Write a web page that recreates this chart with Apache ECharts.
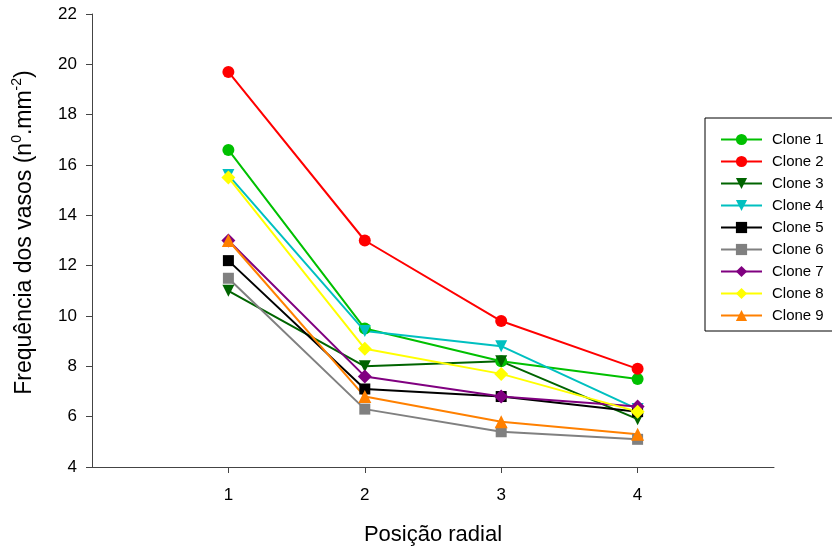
<!DOCTYPE html>
<html><head><meta charset="utf-8">
<script src="https://cdn.jsdelivr.net/npm/echarts@6/dist/echarts.min.js"></script>
<style>html,body{margin:0;padding:0;background:#fff}#c{width:832px;height:549px}</style>
</head><body><div id="c"></div>
<script>
const positions = [1, 2, 3, 4];
const seriesNames = ['Clone 1','Clone 2','Clone 3','Clone 4','Clone 5','Clone 6','Clone 7','Clone 8','Clone 9'];
const clone1 = [16.6, 9.5, 8.2, 7.5];
const clone2 = [19.7, 13.0, 9.8, 7.9];
const clone3 = [11.0, 8.0, 8.2, 5.9];
const clone4 = [15.6, 9.4, 8.8, 6.3];
const clone5 = [12.2, 7.1, 6.8, 6.2];
const clone6 = [11.5, 6.3, 5.4, 5.1];
const clone7 = [13.0, 7.6, 6.8, 6.4];
const clone8 = [15.5, 8.7, 7.7, 6.2];
const clone9 = [13.0, 6.8, 5.8, 5.3];
const yTicks = [4, 6, 8, 10, 12, 14, 16, 18, 20, 22];
const xTicks = [1, 2, 3, 4];

const allValues = [clone1, clone2, clone3, clone4, clone5, clone6, clone7, clone8, clone9];
const colors = ['#00c000','#ff0000','#006400','#00c0c0','#000000','#808080','#800080','#ffff00','#ff8000'];
const downTri = 'path://M0,0 L10,0 L5,9 Z';
const symbols = ['circle','circle',downTri,downTri,'rect','rect','diamond','diamond','triangle'];
const sizes = [12,12,12,12,11,11,14,14,13];

const chart = echarts.init(document.getElementById('c'), null, {renderer:'canvas'});
const font = 'Liberation Sans, Arial, sans-serif';
chart.setOption({
  animation: false,
  backgroundColor: '#fff',
  textStyle: {fontFamily: font},
  grid: {left: 92, right: 58, top: 14, bottom: 82, containLabel: false, outerBoundsMode: 'none'},
  xAxis: {
    type: 'value', min: 0, max: 5, interval: 1,
    axisLine: {lineStyle: {color: '#444', width: 1}},
    axisTick: {length: 6, lineStyle: {color: '#444'}, customValues: xTicks},
    axisLabel: {color: '#000', fontSize: 17, margin: 20, fontFamily: font, customValues: xTicks},
    splitLine: {show: false},
    name: 'Posição radial', nameLocation: 'middle', nameGap: 57,
    nameTextStyle: {fontSize: 22, color: '#000', fontFamily: font}
  },
  yAxis: {
    type: 'value', min: 4, max: 22, interval: 2,
    axisLine: {show: true, lineStyle: {color: '#444', width: 1}},
    axisTick: {show: true, length: 6, lineStyle: {color: '#444'}},
    axisLabel: {color: '#000', fontSize: 17, margin: 15, fontFamily: font},
    splitLine: {show: false},
    name: '{a|Frequência dos vasos (n}{s|0}{a|.mm}{s|-2}{a|)}',
    nameLocation: 'middle', nameGap: 56, nameRotate: 90,
    nameTextStyle: {
      color: '#000', fontFamily: font, padding: [0, 0, 0, 16],
      rich: {
        a: {fontSize: 23, color: '#000', fontFamily: font, lineHeight: 26, verticalAlign: 'bottom'},
        s: {fontSize: 14, color: '#000', fontFamily: font, lineHeight: 26, verticalAlign: 'top', padding: [0,0,10,0]}
      }
    }
  },
  legend: {
    orient: 'vertical', left: 705, top: 118,
    data: seriesNames,
    borderColor: '#000', borderWidth: 1, borderRadius: 0,
    padding: [14, 12, 8, 15],
    itemWidth: 41, itemHeight: 14, itemGap: 7,
    textStyle: {fontSize: 15, color: '#000', fontFamily: font, padding: [0,0,0,5]}
  },
  series: seriesNames.map((n, i) => ({
    name: n, type: 'line',
    data: positions.map((p, j) => [p, allValues[i][j]]),
    symbol: symbols[i], symbolSize: sizes[i],
    lineStyle: {color: colors[i], width: 2},
    itemStyle: {color: colors[i]},
    showAllSymbol: true
  }))
});
</script></body></html>
